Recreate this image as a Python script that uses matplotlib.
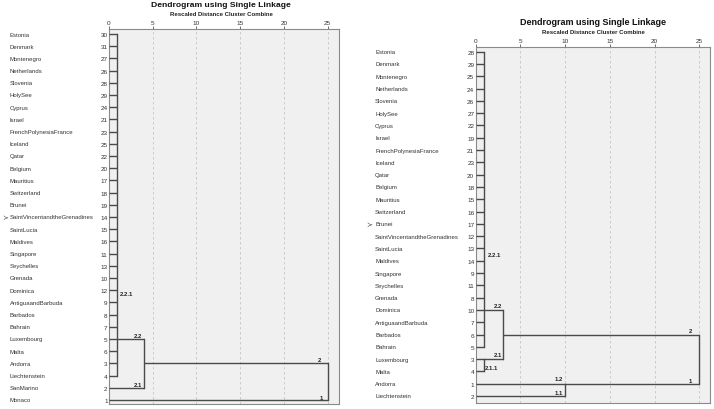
import matplotlib
matplotlib.use('Agg')
import matplotlib.pyplot as plt
from matplotlib.transforms import blended_transform_factory

plt.rcParams['font.family'] = ['Liberation Sans', 'DejaVu Sans']

W, H = 714, 410

# ── Data ────────────────────────────────────────────────────────────────────
left_names = ['Estonia', 'Denmark', 'Montenegro', 'Netherlands', 'Slovenia', 'HolySee',
              'Cyprus', 'Israel', 'FrenchPolynesiaFrance', 'Iceland', 'Qatar', 'Belgium',
              'Mauritius', 'Switzerland', 'Brunei', 'SaintVincentandtheGrenadines',
              'SaintLucia', 'Maldives', 'Singapore', 'Seychelles', 'Grenada', 'Dominica',
              'AntiguaandBarbuda', 'Barbados', 'Bahrain', 'Luxembourg', 'Malta', 'Andorra',
              'Liechtenstein', 'SanMarino', 'Monaco']
left_ids = [30, 31, 27, 26, 28, 29, 24, 21, 23, 25, 22, 20, 17, 18, 19, 14, 15, 16,
            11, 13, 10, 12, 9, 8, 7, 5, 6, 3, 4, 2, 1]

right_names = ['Estonia', 'Denmark', 'Montenegro', 'Netherlands', 'Slovenia', 'HolySee',
               'Cyprus', 'Israel', 'FrenchPolynesiaFrance', 'Iceland', 'Qatar', 'Belgium',
               'Mauritius', 'Switzerland', 'Brunei', 'SaintVincentandtheGrenadines',
               'SaintLucia', 'Maldives', 'Singapore', 'Seychelles', 'Grenada', 'Dominica',
               'AntiguaandBarbuda', 'Barbados', 'Bahrain', 'Luxembourg', 'Malta', 'Andorra',
               'Liechtenstein']
right_ids = [28, 29, 25, 24, 26, 27, 22, 19, 21, 23, 20, 18, 15, 16, 17, 12, 13, 14,
             9, 11, 8, 10, 7, 6, 5, 3, 4, 1, 2]

# clusters: members (leaf rows or earlier clusters), merge distance, row carried on (None = middle)
left_clusters = {
    'c221': (list(range(29)), 0.9, 25),
    'c2':   (['c221', 29], 4.0, None),
    'root': (['c2', 30], 25.0, None),
}
right_clusters = {
    'c221': (list(range(25)), 0.95, 21),
    'c211': ([25, 26], 0.95, 25),
    'c2':   (['c221', 'c211'], 3.0, None),
    'c1':   ([27, 28], 10.0, 27),
    'root': (['c2', 'c1'], 25.0, None),
}

left_lbl_text = ['2.2.1', '2.2', '2.1', '2', '1']
left_lbl_d    = [2.0, 3.3, 3.3, 24.1, 24.25]
left_lbl_row  = [21.25, 24.7, 28.7, 26.7, 29.8]

right_lbl_text = ['2.2.1', '2.2', '2.1', '2.1.1', '2', '1', '1.2', '1.1']
right_lbl_d    = [2.1, 2.45, 2.45, 1.8, 24.0, 24.05, 9.3, 9.3]
right_lbl_row  = [16.5, 20.65, 24.66, 25.65, 22.7, 26.7, 26.6, 27.7]

LINE = '#4a4a4a'
TXT = '#333333'

fig = plt.figure(figsize=(W / 100, H / 100), dpi=100)
fig.patch.set_facecolor('white')


def panel(box, xmax, rows_span, names, ids, clusters, lbl_text, lbl_d, lbl_row,
          name_x, arrow_row, arrow_x, title_xy, title_fs):
    x0, y0, x1, y1 = box
    ax = fig.add_axes([x0 / W, 1 - y1 / H, (x1 - x0) / W, (y1 - y0) / H])
    ax.set_facecolor('#f0f0f0')
    ax.set_xlim(0, xmax)
    ax.set_ylim(rows_span[1], rows_span[0])
    for s in ax.spines.values():
        s.set_color('#8a8a8a')
        s.set_linewidth(0.8)
    for g in range(5, 26, 5):
        ax.axvline(g, color='#c4c4c4', lw=0.6, ls=(0, (3, 3)), zorder=1)

    ax.xaxis.tick_top()
    ax.set_xticks(range(0, 26, 5))
    ax.tick_params(axis='x', length=2, width=0.6, pad=1.2, labelsize=4.6,
                   colors='#555555', labelcolor=TXT)
    ax.set_yticks(range(len(ids)))
    ax.set_yticklabels([str(i) for i in ids])
    ax.tick_params(axis='y', length=0, pad=1.0, labelsize=4.6, labelcolor=TXT)

    tr = blended_transform_factory(fig.transFigure, ax.transData)
    for r, n in enumerate(names):
        ax.text(name_x / W, r, n, transform=tr, fontsize=4.3, color=TXT,
                ha='left', va='center')
    ax.text(arrow_x / W, arrow_row, '≻', transform=tr, fontsize=5, color='#444444',
            ha='left', va='center', family=['DejaVu Sans'])

    # dendrogram links
    pos = {}
    for key, (members, d, out) in clusters.items():
        pts = []
        for m in members:
            if isinstance(m, int):
                pts.append((0.0, m))
            else:
                pts.append(pos[m])
        for (cx, cy) in pts:
            ax.plot([cx, d], [cy, cy], color=LINE, lw=1.0, solid_capstyle='butt', zorder=3)
        ys = [p[1] for p in pts]
        ax.plot([d, d], [min(ys), max(ys)], color=LINE, lw=1.0, zorder=3)
        row = out if out is not None else (pts[0][1] + pts[-1][1]) / 2
        pos[key] = (d, row)

    for t, d, r in zip(lbl_text, lbl_d, lbl_row):
        ax.text(d, r, t, fontsize=4.3, fontweight='bold', color='#222222',
                ha='center', va='center', zorder=4)

    tx, ty, sy = title_xy
    fig.text(tx / W, 1 - ty / H, 'Dendrogram using Single Linkage', fontsize=title_fs,
             fontweight='bold', ha='center', va='center', color='#111111')
    fig.text(tx / W, 1 - sy / H, 'Rescaled Distance Cluster Combine', fontsize=4.3,
             fontweight='bold', ha='center', va='center', color='#222222')
    return ax


panel((109, 30, 339, 405), 26.29, (-0.41, 30.33), left_names, left_ids, left_clusters,
      left_lbl_text, left_lbl_d, left_lbl_row, 10, 15, 2.5, (221, 5.5, 15), 6.1)
panel((475.7, 48, 710, 404), 26.2, (-0.38, 28.57), right_names, right_ids, right_clusters,
      right_lbl_text, right_lbl_d, right_lbl_row, 375, 14, 366, (593, 22.7, 32.7), 6.5)

fig.savefig('out.png', dpi=100)
